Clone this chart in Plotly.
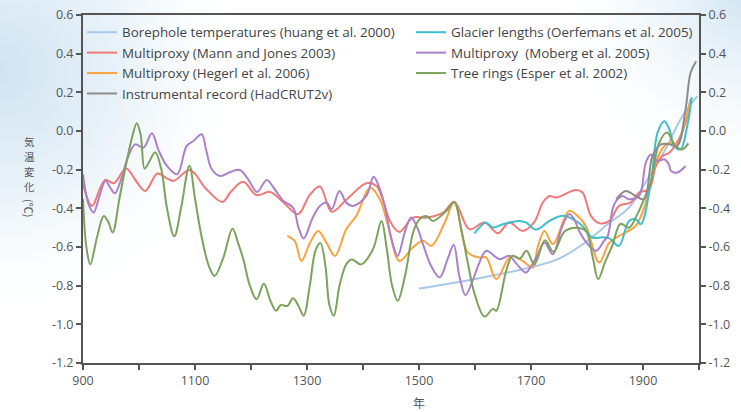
import base64
import plotly.graph_objects as go

# ---------------- data ----------------
y_tick_vals = [0.6, 0.4, 0.2, 0.0, -0.2, -0.4, -0.6, -0.8, -1.0, -1.2]
y_tick_text = ["0.6", "0.4", "0.2", "0.0", "-0.2", "-0.4", "-0.6", "-0.8", "-1.0", "-1.2"]
x_tick_vals = [900, 1100, 1300, 1500, 1700, 1900]
x_tick_text = ["900", "1100", "1300", "1500", "1700", "1900"]
y_title_chars = ["気", "温", "変", "化"]

borehole_years = [1500, 1600, 1700, 1750, 1800, 1840, 1875, 1910, 1940, 1970, 1997]
borehole_vals = [-0.815, -0.765, -0.705, -0.66, -0.57, -0.475, -0.396, -0.24, -0.095, 0.075, 0.18]

mann_years = [900, 916, 930, 940, 955, 977, 995, 1011, 1033, 1050, 1062, 1091, 1120, 1149, 1163, 1186,
              1210, 1234, 1258, 1284, 1305, 1323, 1344, 1371, 1406, 1424, 1437, 1448, 1465, 1489, 1513,
              1543, 1563, 1590, 1617, 1641, 1661, 1685, 1706, 1721, 1733, 1745, 1780, 1792, 1807, 1822,
              1840, 1857, 1878, 1893, 1911, 1923, 1935, 1947, 1964, 1976, 1985]
mann_vals = [-0.276, -0.388, -0.3, -0.253, -0.27, -0.194, -0.26, -0.31, -0.22, -0.245, -0.258, -0.202,
             -0.3, -0.367, -0.318, -0.263, -0.332, -0.315, -0.37, -0.43, -0.33, -0.287, -0.418, -0.353,
             -0.27, -0.284, -0.37, -0.465, -0.522, -0.448, -0.448, -0.422, -0.367, -0.508, -0.473,
             -0.529, -0.473, -0.517, -0.47, -0.37, -0.336, -0.344, -0.305, -0.318, -0.439, -0.477,
             -0.465, -0.388, -0.37, -0.318, -0.301, -0.181, -0.129, -0.112, -0.043, 0.043, 0.164]

hegerl_years = [1265, 1278, 1290, 1305, 1320, 1335, 1350, 1370, 1388, 1413, 1430, 1445, 1465, 1489,
                1507, 1522, 1546, 1563, 1587, 1608, 1620, 1638, 1664, 1685, 1703, 1712, 1724, 1739,
                1768, 1783, 1798, 1822, 1840, 1863, 1887, 1905, 1923, 1938, 1950, 1961, 1973, 1985]
hegerl_vals = [-0.543, -0.568, -0.672, -0.58, -0.517, -0.58, -0.646, -0.508, -0.439, -0.293, -0.353,
               -0.491, -0.672, -0.603, -0.568, -0.594, -0.473, -0.367, -0.628, -0.654, -0.654, -0.766,
               -0.646, -0.672, -0.706, -0.6, -0.517, -0.585, -0.413, -0.439, -0.491, -0.68, -0.577,
               -0.534, -0.491, -0.37, -0.163, -0.078, -0.06, -0.069, 0.026, 0.164]

instr_years = [1852, 1869, 1887, 1902, 1917, 1932, 1947, 1961, 1976, 1985, 1995]
instr_vals = [-0.353, -0.31, -0.336, -0.353, -0.129, -0.069, -0.069, -0.078, 0.112, 0.301, 0.361]

glacier_years = [1599, 1608, 1619, 1632, 1650, 1679, 1691, 1709, 1733, 1757, 1780, 1792, 1810, 1828,
                 1840, 1857, 1875, 1887, 1896, 1914, 1926, 1938, 1947, 1956, 1967, 1979, 1987]
glacier_vals = [-0.529, -0.499, -0.473, -0.499, -0.482, -0.465, -0.473, -0.51, -0.465, -0.439, -0.465,
                -0.491, -0.551, -0.55, -0.555, -0.594, -0.465, -0.456, -0.482, -0.267, -0.008, 0.051,
                0.009, -0.078, -0.095, 0.026, 0.175]

moberg_years = [900, 910, 919, 930, 940, 948, 957, 968, 979, 993, 1008, 1023, 1035, 1050, 1068, 1085,
                1097, 1112, 1120, 1130, 1145, 1163, 1180, 1195, 1211, 1228, 1242, 1258, 1275, 1285,
                1294, 1310, 1323, 1335, 1344, 1358, 1370, 1382, 1406, 1419, 1430, 1439, 1450, 1462,
                1475, 1486, 1497, 1507, 1522, 1537, 1551, 1562, 1572, 1583, 1595, 1608, 1620, 1644,
                1661, 1675, 1691, 1700, 1712, 1724, 1739, 1755, 1768, 1777, 1786, 1800, 1816, 1830,
                1837, 1846, 1852, 1863, 1875, 1893, 1905, 1914, 1926, 1938, 1946, 1950, 1961, 1976]
moberg_vals = [-0.224, -0.38, -0.422, -0.33, -0.258, -0.29, -0.322, -0.25, -0.146, -0.069, -0.086,
               -0.012, -0.1, -0.181, -0.224, -0.078, -0.052, -0.017, -0.1, -0.198, -0.233, -0.212,
               -0.202, -0.25, -0.315, -0.253, -0.3, -0.362, -0.396, -0.5, -0.556, -0.45, -0.388,
               -0.37, -0.405, -0.31, -0.37, -0.388, -0.336, -0.236, -0.3, -0.388, -0.55, -0.646,
               -0.52, -0.448, -0.5, -0.585, -0.7, -0.757, -0.663, -0.589, -0.75, -0.849, -0.78,
               -0.68, -0.62, -0.663, -0.646, -0.69, -0.732, -0.7, -0.64, -0.577, -0.637, -0.5,
               -0.43, -0.456, -0.517, -0.58, -0.62, -0.57, -0.543, -0.4, -0.362, -0.336, -0.353,
               -0.336, -0.163, -0.121, -0.155, -0.146, -0.172, -0.207, -0.215, -0.181]

esper_years = [900, 906, 913, 925, 937, 945, 953, 965, 975, 987, 996, 1003, 1010, 1018, 1029, 1040,
               1050, 1063, 1075, 1090, 1100, 1112, 1125, 1135, 1150, 1167, 1177, 1186, 1198, 1210,
               1223, 1235, 1245, 1253, 1265, 1275, 1284, 1294, 1305, 1315, 1324, 1333, 1340, 1348,
               1358, 1370, 1380, 1397, 1418, 1433, 1442, 1452, 1462, 1475, 1490, 1501, 1513, 1525,
               1549, 1563, 1575, 1587, 1600, 1617, 1632, 1638, 1656, 1667, 1680, 1692, 1706, 1725,
               1740, 1760, 1780, 1798, 1810, 1820, 1832, 1845, 1860, 1875, 1890, 1905, 1914, 1929,
               1943, 1958, 1970, 1981]
esper_vals = [-0.35, -0.6, -0.69, -0.55, -0.44, -0.47, -0.525, -0.35, -0.2, -0.04, 0.04, -0.02,
              -0.195, -0.16, -0.11, -0.2, -0.4, -0.545, -0.4, -0.18, -0.35, -0.55, -0.7, -0.75, -0.66,
              -0.505, -0.58, -0.66, -0.8, -0.87, -0.79, -0.88, -0.93, -0.9, -0.905, -0.865, -0.9,
              -0.955, -0.8, -0.62, -0.58, -0.7, -0.9, -0.955, -0.8, -0.69, -0.665, -0.69, -0.61,
              -0.465, -0.6, -0.8, -0.878, -0.75, -0.52, -0.456, -0.44, -0.465, -0.413, -0.367, -0.5,
              -0.68, -0.85, -0.96, -0.92, -0.93, -0.72, -0.646, -0.66, -0.62, -0.69, -0.565, -0.625,
              -0.52, -0.5, -0.517, -0.65, -0.766, -0.68, -0.594, -0.48, -0.5, -0.43, -0.33, -0.267,
              -0.06, -0.008, -0.078, -0.095, -0.064]

# name, years, values, colour, legend column, y axis
series = [
    ("Borephole temperatures (huang et al. 2000)", borehole_years, borehole_vals, "#a6c8ea", "legend", "y"),
    ("Multiproxy (Mann and Jones 2003)", mann_years, mann_vals, "#f27878", "legend", "y"),
    ("Multiproxy (Hegerl et al. 2006)", hegerl_years, hegerl_vals, "#f9a33f", "legend", "y"),
    ("Instrumental record (HadCRUT2v)", instr_years, instr_vals, "#8c8c8c", "legend", "y2"),
    ("Glacier lengths (Oerfemans et al. 2005)", glacier_years, glacier_vals, "#3cbfca", "legend2", "y"),
    ("Multiproxy  (Moberg et al. 2005)", moberg_years, moberg_vals, "#ab80c8", "legend2", "y"),
    ("Tree rings (Esper et al. 2002)", esper_years, esper_vals, "#7ca25c", "legend2", "y"),
]

fig = go.Figure()
for name, xs, ys, color, leg, yax in series:
    fig.add_trace(go.Scatter(
        x=xs, y=ys, name=name, mode="lines", yaxis=yax,
        line=dict(color=color, width=2, shape="spline", smoothing=1.0),
        legend=leg, hoverinfo="skip",
    ))

W, H = 741, 412
L, R, T, B = 83, 42, 15, 49
pw, ph = W - L - R, H - T - B


def px2paper(px, py):
    return (px - L) / pw, 1 - (py - T) / ph


# soft blue corner background (decorative)
svg = f"""<svg xmlns='http://www.w3.org/2000/svg' width='{W}' height='{H}'>
<defs>
<radialGradient id='a' cx='0' cy='70' r='260' gradientUnits='userSpaceOnUse'>
<stop offset='0' stop-color='#cfe3f1' stop-opacity='1'/>
<stop offset='0.45' stop-color='#e2eef7' stop-opacity='0.8'/>
<stop offset='1' stop-color='#ffffff' stop-opacity='0'/>
</radialGradient>
<radialGradient id='b' cx='{W}' cy='0' r='200' gradientUnits='userSpaceOnUse'>
<stop offset='0' stop-color='#d3e6f3' stop-opacity='1'/>
<stop offset='1' stop-color='#ffffff' stop-opacity='0'/>
</radialGradient>
</defs>
<rect width='{W}' height='{H}' fill='#ffffff'/>
<rect width='{W}' height='{H}' fill='url(#a)'/>
<rect width='{W}' height='{H}' fill='url(#b)'/>
</svg>"""
svg_uri = "data:image/svg+xml;base64," + base64.b64encode(svg.encode("utf-8")).decode("ascii")

axis_col = "#555555"
tick_font = dict(family="Open Sans, sans-serif", size=12.5, color="#555555")
legend_font = dict(family="Open Sans, sans-serif", size=13.4, color="#444444")

yaxis_common = dict(
    range=[-1.2, 0.6], tickvals=y_tick_vals, ticktext=y_tick_text,
    ticks="outside", ticklen=5, tickwidth=1.5, tickcolor=axis_col,
    showline=True, linecolor=axis_col, linewidth=2, showgrid=False, zeroline=False,
    tickfont=tick_font, fixedrange=True,
)

lx1, ly1 = px2paper(82, 17)
lx2, ly2 = px2paper(411, 17)
bx0, by0 = px2paper(0, 0)
bx1, by1 = px2paper(W, H)

fig.update_layout(
    width=W, height=H,
    margin=dict(l=L, r=R, t=T, b=B, autoexpand=False),
    paper_bgcolor="white", plot_bgcolor="white",
    images=[dict(source=svg_uri, xref="paper", yref="paper", x=bx0, y=by0,
                 sizex=bx1 - bx0, sizey=by0 - by1, xanchor="left", yanchor="top",
                 sizing="stretch", layer="below")],
    xaxis=dict(
        range=[900, 2000], tickvals=x_tick_vals, ticktext=x_tick_text,
        ticks="outside", ticklen=5, tickwidth=1.5, tickcolor=axis_col,
        minor=dict(tick0=900, dtick=100, ticks="outside", ticklen=5, tickwidth=1.5, tickcolor=axis_col),
        showline=True, linecolor=axis_col, linewidth=2, mirror=True,
        showgrid=False, zeroline=False, tickfont=tick_font, fixedrange=True,
    ),
    yaxis=yaxis_common,
    yaxis2=dict(overlaying="y", side="right", anchor="x", **yaxis_common),
    legend=dict(x=lx1, y=ly1, xanchor="left", yanchor="top", bgcolor="rgba(0,0,0,0)",
                font=legend_font, tracegroupgap=0, itemwidth=30, traceorder="normal"),
    legend2=dict(x=lx2, y=ly2, xanchor="left", yanchor="top", bgcolor="rgba(0,0,0,0)",
                 font=legend_font, tracegroupgap=0, itemwidth=30, traceorder="normal"),
    showlegend=True,
)

# Y-axis title (vertical Japanese, one glyph per annotation) and X-axis title
cjk = "Noto Sans CJK JP"
for i, ch in enumerate(y_title_chars):
    ax, ay = px2paper(29, 141 + i * 15.3)
    fig.add_annotation(text=ch, x=ax, y=ay, xref="paper", yref="paper",
                       xanchor="center", yanchor="middle", showarrow=False,
                       font=dict(family=cjk, size=10.5, color="#555555"))
ax, ay = px2paper(29, 208)
fig.add_annotation(text="(℃)", x=ax, y=ay, xref="paper", yref="paper", showarrow=False, textangle=90,
                   xanchor="center", yanchor="middle",
                   font=dict(family=cjk, size=11, color="#555555"))
ax, ay = px2paper(419, 402)
fig.add_annotation(text="年", x=ax, y=ay, xref="paper", yref="paper", showarrow=False,
                   xanchor="center", yanchor="middle",
                   font=dict(family=cjk, size=12, color="#555555"))

fig.write_html("out.html", config={"displayModeBar": False},
               post_script="document.body.style.margin='0';")
